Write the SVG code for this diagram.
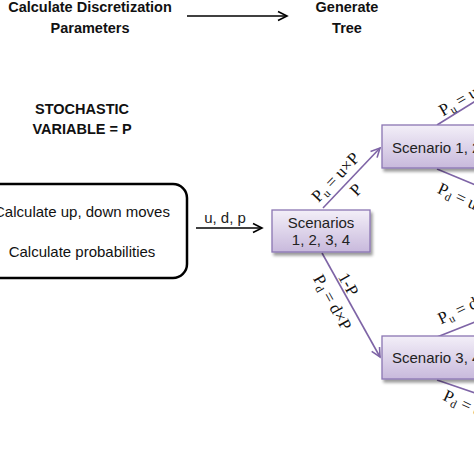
<svg xmlns="http://www.w3.org/2000/svg" width="474" height="474" viewBox="0 0 474 474">
<defs>
<linearGradient id="pg" x1="0" y1="0" x2="0" y2="1">
<stop offset="0" stop-color="#F3EFF8"/>
<stop offset="1" stop-color="#C8B9DC"/>
</linearGradient>
<filter id="sh" x="-20%" y="-30%" width="150%" height="180%">
<feGaussianBlur in="SourceAlpha" stdDeviation="1.5"/>
<feOffset dx="2" dy="3" result="b"/>
<feComponentTransfer><feFuncA type="linear" slope="0.4"/></feComponentTransfer>
<feMerge><feMergeNode/><feMergeNode in="SourceGraphic"/></feMerge>
</filter>
<marker id="ab" markerWidth="12" markerHeight="12" refX="10" refY="6" orient="auto" markerUnits="userSpaceOnUse">
<path d="M1,1.5 L10,6 L1,10.5" fill="none" stroke="#000" stroke-width="1.6"/>
</marker>
<marker id="ap" markerWidth="12" markerHeight="12" refX="10" refY="6" orient="auto" markerUnits="userSpaceOnUse">
<path d="M1,1.5 L10,6 L1,10.5" fill="none" stroke="#7E64A6" stroke-width="1.6"/>
</marker>
<style>
.hd{font-family:"Liberation Sans",Arial,sans-serif;font-weight:bold;font-size:14.5px;fill:#111;text-anchor:middle}
.tx{font-family:"Liberation Sans",Arial,sans-serif;font-size:15px;fill:#111;text-anchor:middle}
.st{font-family:"Liberation Sans",Arial,sans-serif;font-size:15px;fill:#222}
.bx{fill:url(#pg);stroke:#8B76B3;stroke-width:1.3;filter:url(#sh)}
.pl{stroke:#7E64A6;stroke-width:1.6;fill:none}
.bl{stroke:#000;stroke-width:1.6;fill:none}
.mt{font-family:"Liberation Serif","Times New Roman",serif;font-size:17px;fill:#111}
.sb{font-size:11.5px}
</style>
</defs>
<rect width="474" height="474" fill="#fff"/>

<g id="header">
<text class="hd" x="90" y="12">Calculate Discretization</text>
<text class="hd" x="90" y="33">Parameters</text>
<text class="hd" x="347" y="12">Generate</text>
<text class="hd" x="347" y="33">Tree</text>
<text class="hd" x="82" y="114">STOCHASTIC</text>
<text class="hd" x="82" y="134">VARIABLE = P</text>
</g>

<g id="connectors">
<line class="bl" x1="187" y1="16" x2="287" y2="16" marker-end="url(#ab)"/>
<line class="bl" x1="196" y1="228" x2="262" y2="228" marker-end="url(#ab)"/>
<text class="st" x="225" y="223" text-anchor="middle">u, d, p</text>
<line class="pl" x1="323" y1="208" x2="380" y2="148" marker-end="url(#ap)"/>
<line class="pl" x1="322" y1="253" x2="380" y2="357" marker-end="url(#ap)"/>
<line class="pl" x1="437" y1="125" x2="490" y2="92"/>
<line class="pl" x1="437" y1="169" x2="490" y2="191"/>
<line class="pl" x1="437" y1="337" x2="490" y2="316"/>
<line class="pl" x1="437" y1="380" x2="490" y2="398"/>
<text class="mt" text-anchor="middle" transform="translate(339.5,181) rotate(-46.5)">P<tspan class="sb" dy="3">u</tspan><tspan dy="-3"> = u×P</tspan></text>
<text class="mt" text-anchor="middle" transform="translate(360,193.5) rotate(-46.5)">P</text>
<text class="mt" text-anchor="middle" transform="translate(343.5,287) rotate(60.85)">1-P</text>
<text class="mt" text-anchor="middle" transform="translate(327.5,305) rotate(60.85)">P<tspan class="sb" dy="3">d</tspan><tspan dy="-3"> = d×P</tspan></text>
<text class="mt" transform="translate(443,116.5) rotate(-30)">P<tspan class="sb" dy="3">u</tspan><tspan dy="-3"> = u×P</tspan></text>
<text class="mt" transform="translate(436.5,192.5) rotate(25)">P<tspan class="sb" dy="3">d</tspan><tspan dy="-3"> = u×d×P</tspan></text>
<text class="mt" transform="translate(441,324.5) rotate(-25)">P<tspan class="sb" dy="3">u</tspan><tspan dy="-3"> = d×u×P</tspan></text>
<text class="mt" transform="translate(442,399.5) rotate(25)">P<tspan class="sb" dy="3">d</tspan><tspan dy="-3"> = d×d×P</tspan></text>
</g>

<g id="calc">
<rect x="-23" y="184" width="210" height="94" rx="14" fill="#fff" stroke="#000" stroke-width="2.5"/>
<text class="tx" x="82" y="217">Calculate up, down moves</text>
<text class="tx" x="82" y="257">Calculate probabilities</text>
</g>

<g id="scenarios">
<rect class="bx" x="272" y="210" width="98" height="42"/>
<text class="st" x="321" y="228" text-anchor="middle">Scenarios</text>
<text class="st" x="321" y="245" text-anchor="middle">1, 2, 3, 4</text>
</g>

<g id="scenario12">
<rect class="bx" x="382" y="125" width="130" height="43"/>
<text class="st" x="392" y="153">Scenario 1, 2</text>
</g>

<g id="scenario34">
<rect class="bx" x="382" y="336" width="130" height="43"/>
<text class="st" x="392" y="363">Scenario 3, 4</text>
</g>
</svg>
